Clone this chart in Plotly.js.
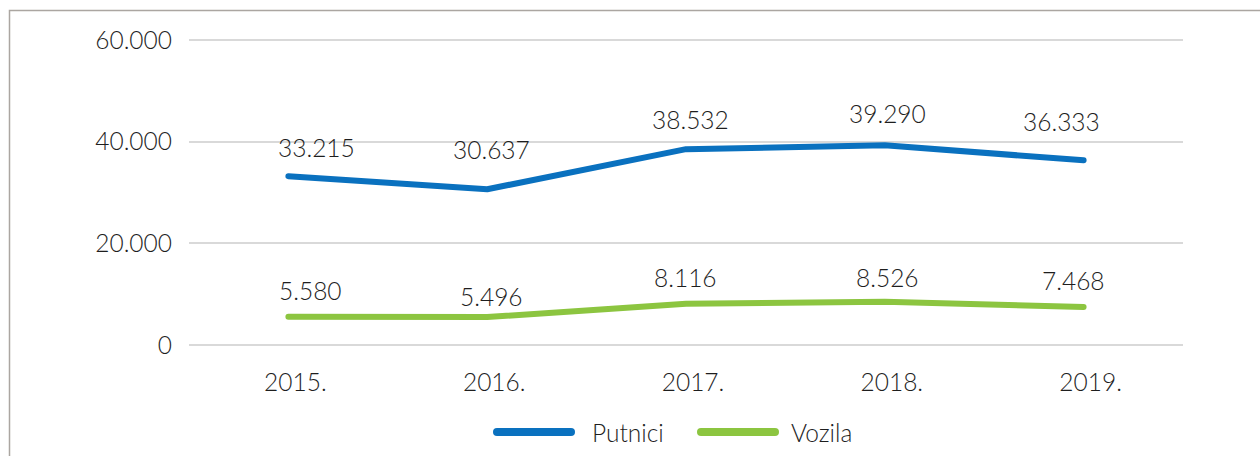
<!DOCTYPE html>
<html>
<head>
<meta charset="utf-8">
<script src="https://cdn.plot.ly/plotly-3.0.1.min.js"></script>
<style>
  html, body { margin: 0; padding: 0; background: #fff; }
  #chart { width: 1260px; height: 456px; }
</style>
</head>
<body>
<div id="chart"></div>
<script>
// Yearly traffic: passengers and vehicles
const years = ['2015.', '2016.', '2017.', '2018.', '2019.'];
const putnici = [33215, 30637, 38532, 39290, 36333];
const vozila = [5580, 5496, 8116, 8526, 7468];
const seriesNames = ['Putnici', 'Vozila'];
const yTicks = [0, 20000, 40000, 60000];

// Label nudges in pixels (label centre relative to the point)
const putniciShift = { x: [28, 4, 4, 3, -22], y: [29, 40, 30, 32, 39] };
const vozilaShift = { x: [22, 4, -1, 3, -10], y: [26, 21, 26, 24, 27] };

const BLUE = '#0a71bf';
const GREEN = '#8cc540';
const TEXT = '#1e1e1e';
const FONT = 'Lato, "Open Sans", sans-serif';
const WEIGHT = 300;
const SIZE = 24.5;

// thousands grouped with a dot
function fmt(v) {
  return String(v).replace(/\B(?=(\d{3})+(?!\d))/g, '.');
}

const textFont = { family: FONT, size: SIZE, color: TEXT, weight: WEIGHT };

const traces = [
  { x: years, y: putnici, name: seriesNames[0], type: 'scatter', mode: 'lines',
    line: { color: BLUE, width: 6 }, hoverinfo: 'skip', showlegend: false },
  { x: years, y: vozila, name: seriesNames[1], type: 'scatter', mode: 'lines',
    line: { color: GREEN, width: 6 }, hoverinfo: 'skip', showlegend: false }
];

const annotations = [];
function addLabels(vals, shift) {
  vals.forEach((v, i) => {
    annotations.push({
      x: i, y: v, xref: 'x', yref: 'y', text: fmt(v), showarrow: false,
      xanchor: 'center', yanchor: 'middle',
      xshift: shift.x[i], yshift: shift.y[i],
      font: textFont
    });
  });
}
addLabels(putnici, putniciShift);
addLabels(vozila, vozilaShift);

// Plot area in pixels: x 189..1183, y 38..345 (60.000 sits at y 40)
const L = 189, R = 1183, T = 38, B = 345;
const Y_TOP = 60400;
const px = v => (v - L) / (R - L);
const py = v => (B - v) / (B - T);

// Legend drawn as wide rounded strokes with labels
const legendY = 432;
const legendItems = [
  { x0: 497, x1: 571, color: BLUE, label: seriesNames[0], tx: 590 },
  { x0: 701, x1: 775, color: GREEN, label: seriesNames[1], tx: 789 }
];
const shapes = [
  { type: 'rect', xref: 'paper', yref: 'paper',
    x0: px(9.5), x1: px(1275), y0: py(475), y1: py(10.5),
    line: { color: '#aba6a1', width: 1.5 }, fillcolor: 'rgba(0,0,0,0)', layer: 'below' }
];
legendItems.forEach(it => {
  shapes.push({ type: 'line', xref: 'paper', yref: 'paper',
    x0: px(it.x0), x1: px(it.x1), y0: py(legendY), y1: py(legendY),
    line: { color: it.color, width: 8 } });
  annotations.push({ xref: 'paper', yref: 'paper', x: px(it.tx), y: py(legendY),
    text: it.label, showarrow: false, xanchor: 'left', yanchor: 'middle',
    font: textFont });
});

const layout = {
  width: 1260, height: 456,
  margin: { l: L, r: 1260 - R, t: T, b: 456 - B, pad: 0 },
  paper_bgcolor: '#ffffff', plot_bgcolor: '#ffffff',
  separators: ',.',
  font: textFont,
  showlegend: false,
  xaxis: {
    type: 'category', range: [-0.5, 4.5], showgrid: false, zeroline: false,
    showline: false, ticks: '', ticklabelstandoff: 20, ticklabelshift: 7,
    tickfont: textFont, fixedrange: true
  },
  yaxis: {
    range: [0, Y_TOP], tickvals: yTicks, tickformat: ',d',
    showgrid: true, gridcolor: '#d9d9d9', gridwidth: 2,
    zeroline: true, zerolinecolor: '#d9d9d9', zerolinewidth: 2,
    showline: false, ticks: '', ticklabelstandoff: 16,
    tickfont: textFont, fixedrange: true
  },
  annotations: annotations,
  shapes: shapes
};

Plotly.newPlot('chart', traces, layout, { displayModeBar: false, staticPlot: true }).then(() => {
  document.querySelectorAll('.scatterlayer path.js-line').forEach(p => {
    p.style.strokeLinecap = 'round';
    p.style.strokeLinejoin = 'round';
  });
  document.querySelectorAll('.shapelayer path').forEach(p => {
    if (p.style.strokeWidth === '8px') p.style.strokeLinecap = 'round';
  });
});
</script>
</body>
</html>
